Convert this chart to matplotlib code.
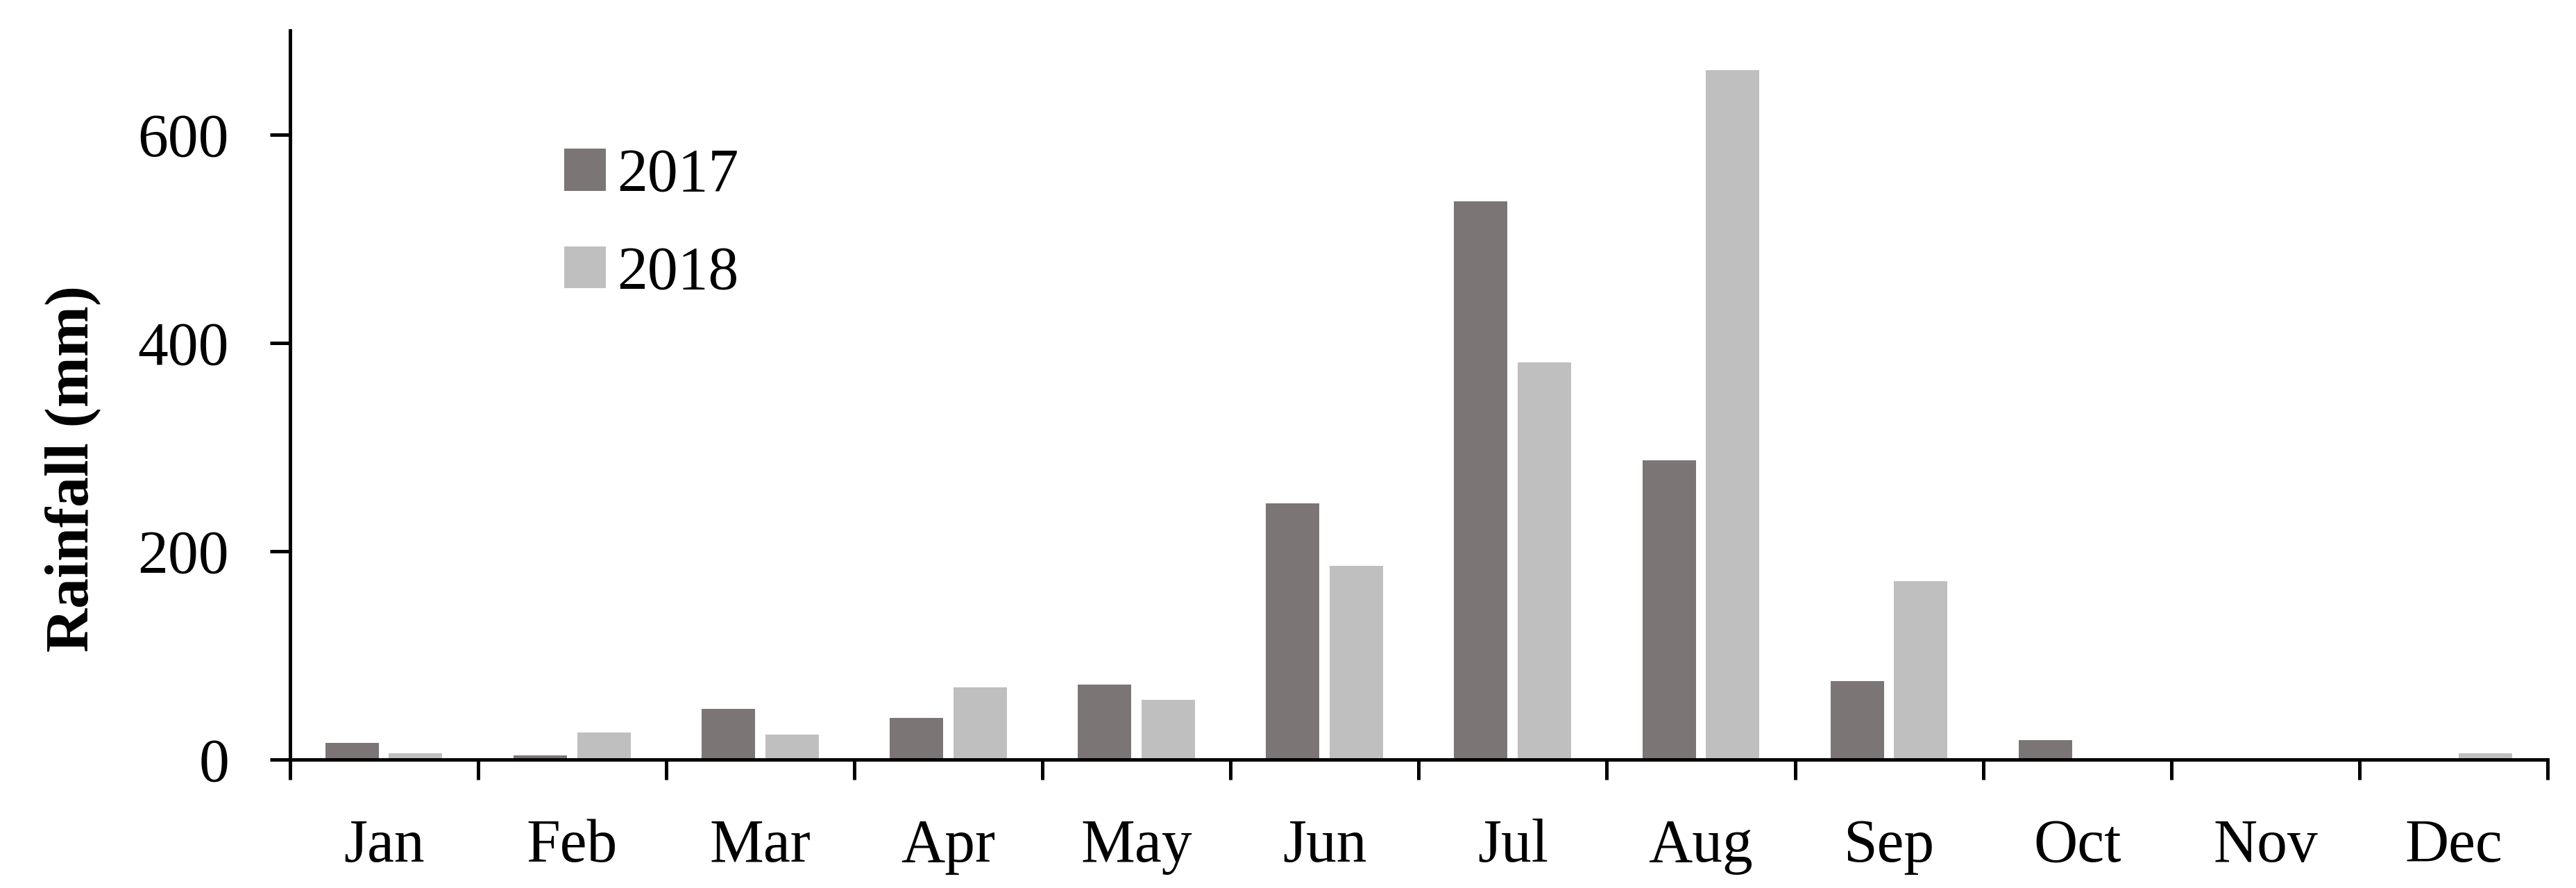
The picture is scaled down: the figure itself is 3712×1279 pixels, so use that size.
import matplotlib
matplotlib.use("Agg")
import matplotlib.pyplot as plt
import numpy as np

#Monthly rainfall values (mm)
months = ["Jan","Feb","Mar","Apr","May","Jun","Jul","Aug","Sep","Oct","Nov","Dec"]
rain2017 = [16, 3.5, 48.5, 39.5, 71.5, 246, 536, 287, 75, 18.5, 0, 0]
rain2018 = [6, 25.5, 23.5, 69, 57, 186, 381.5, 662, 171, 0, 0, 6]
yticks = [0, 200, 400, 600]

plt.rcParams['font.family'] = ['Liberation Serif', 'DejaVu Serif']
fs = 21

fig = plt.figure(figsize=(3712/300, 1279/300), dpi=300)
ax = fig.add_axes([417.5/3712, 1-1093.5/1279, (3671-417.5)/3712, (1093.5-44)/1279])

pos = np.arange(len(months))
width = 0.284
off = 0.169
ax.bar(pos - off, rain2017, width, color="#7b7575", linewidth=0, label="2017")
ax.bar(pos + off, rain2018, width, color="#bfbfbf", linewidth=0, label="2018")

#x-axis: ticks on category boundaries, labels in the middle
ax.set_xlim(-0.5, len(months) - 0.5)
ax.set_xticks(np.arange(-0.5, len(months)))
ax.set_xticklabels([])
ax.set_xticks(pos, minor=True)
ax.set_xticklabels(months, minor=True, fontsize=fs)
ax.tick_params(axis='x', which='minor', length=0, pad=20.5)
ax.tick_params(axis='x', which='major', direction='out', length=7, width=1.2)

#y-axis
ax.set_ylim(0, 700)
ax.set_yticks(yticks)
ax.set_yticklabels([str(t) for t in yticks], fontsize=fs)
ax.tick_params(axis='y', direction='out', length=7, width=1.2, pad=14)
ax.set_ylabel("Rainfall (mm)", fontsize=fs, fontweight='bold')
ax.yaxis.set_label_coords(-0.0838, 0.399)

ax.spines['top'].set_visible(False)
ax.spines['right'].set_visible(False)
ax.spines['left'].set_linewidth(1.2)
ax.spines['bottom'].set_linewidth(1.2)

ax.legend(loc='upper left', bbox_to_anchor=(0.1216, 0.839), frameon=False,
          fontsize=fs, handlelength=0.686, handleheight=0.686,
          handletextpad=0.18, labelspacing=0.68, borderpad=0, borderaxespad=0)

fig.savefig("out.png", dpi=300)
plt.close()
